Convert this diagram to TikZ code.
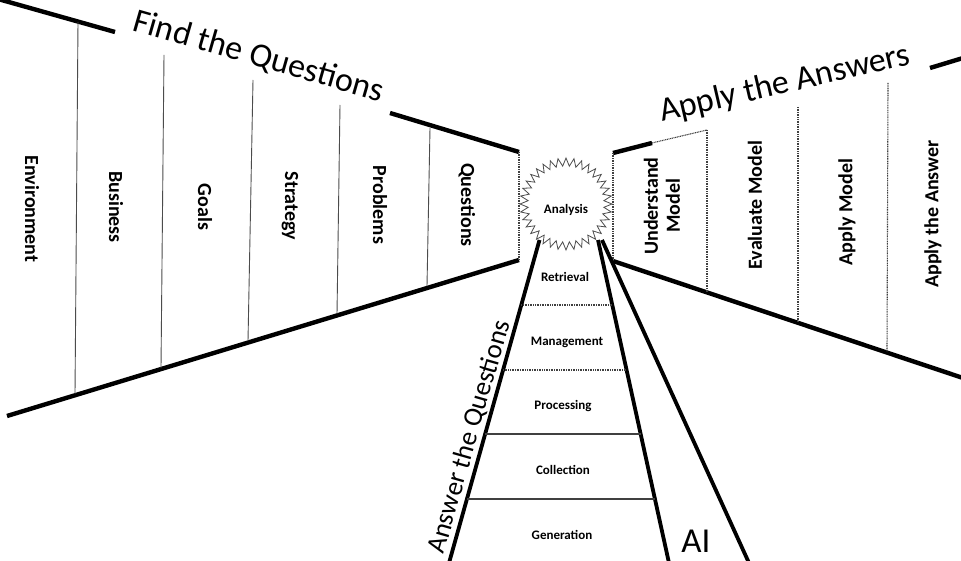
\documentclass[tikz,border=0pt]{standalone}
\usepackage{fontspec}
\setmainfont{Carlito}
\usetikzlibrary{calc}
\begin{document}
\begin{tikzpicture}[x=1pt,y=-1pt,
  heavy/.style={line width=4.4pt},
  ladderline/.style={line width=3.8pt},
  divider/.style={line width=0.9pt, draw=black!70},
  dotdiv/.style={line width=1.1pt, draw=black!75, dash pattern=on 1pt off 0.7pt},
  rungline/.style={line width=1.2pt, draw=black!75, dash pattern=on 1pt off 0.7pt},
  rungsolid/.style={line width=1.1pt, draw=black!75},
  burst/.style={line width=0.8pt, draw=black!70},
  panel/.style={inner sep=0pt, font=\fontsize{20}{22}\selectfont\bfseries, align=center},
  rung/.style={inner sep=0pt, font=\fontsize{13}{15}\selectfont\bfseries},
  title/.style={inner sep=0pt, font=\fontsize{34}{38}\selectfont},
]
\useasboundingbox (0,0) rectangle (961,561);
\fill[white] (0,0) rectangle (961,561);

% ---------- left panel (Find the Questions) ----------
\coordinate (lt0) at (-2,-1);
\coordinate (lt1) at (115,32);
\coordinate (lt2) at (390,113);
\coordinate (lt3) at (519,152);
\coordinate (lb0) at (7,416);
\coordinate (lb1) at (519,260);
\draw[heavy] (lt0) -- (lt1);
\draw[heavy] (lt2) -- (lt3);
\draw[heavy] (lb0) -- (lb1);
\draw[dotdiv] (lt3) -- (lb1);

\coordinate (d1t) at (78,22);  \coordinate (d1b) at (75,394);
\coordinate (d2t) at (164,55); \coordinate (d2b) at (161,368);
\coordinate (d3t) at (253,80); \coordinate (d3b) at (248,341);
\coordinate (d4t) at (340,105);\coordinate (d4b) at (337,314);
\coordinate (d5t) at (430,128);\coordinate (d5b) at (427,286);
\foreach \i in {1,...,5} \draw[divider] (d\i t) -- (d\i b);

\node[title, rotate=-16, anchor=base] (findq) at (256,66) {Find the Questions};

\node[panel, rotate=-90] (env) at (32,209) {Environment};
\node[panel, rotate=-90] (bus) at (116,207) {Business};
\node[panel, rotate=-90] (goa) at (205,207) {Goals};
\node[panel, rotate=-90] (str) at (290,206) {Strategy};
\node[panel, rotate=-90] (pro) at (380,205) {Problems};
\node[panel, rotate=-90] (que) at (467,205) {Questions};

% ---------- right panel (Apply the Answers) ----------
\coordinate (rt0) at (613,153);
\coordinate (rt1) at (652,143);
\coordinate (rt2) at (707,130);
\coordinate (rt3) at (930,68);
\coordinate (rt4) at (963,58);
\coordinate (rb0) at (613,261);
\coordinate (rb1) at (963,378);
\draw[heavy] (rt0) -- (rt1);
\draw[dotdiv] (rt1) -- (rt2);
\draw[heavy] (rt3) -- (rt4);
\draw[heavy] (rb0) -- (rb1);
\draw[dotdiv] (rt0) -- (rb0);

\coordinate (e1t) at (707,130); \coordinate (e1b) at (707,292);
\coordinate (e2t) at (798,107); \coordinate (e2b) at (798,322);
\coordinate (e3t) at (888,83);  \coordinate (e3b) at (887,352);
\foreach \i in {1,2,3} \draw[dotdiv] (e\i t) -- (e\i b);

\node[title, rotate=13, anchor=base] (applya) at (787,93) {Apply the Answers};

\node[panel, rotate=90] (und) at (662,206) {Understand\\Model};
\node[panel, rotate=90] (eva) at (755,205) {Evaluate Model};
\node[panel, rotate=90] (apm) at (847,212) {Apply Model};
\node[panel, rotate=90] (apa) at (933,214) {Apply the Answer};

% ---------- analysis starburst ----------
\draw[burst] plot[domain=0:71, samples=72, variable=\k]
  ({566+ifthenelse(mod(round(\k),2)==0,46,38)*cos(\k*5)},
   {204+ifthenelse(mod(round(\k),2)==0,46,38)*sin(\k*5)}) -- cycle;
\node[rung] (ana) at (566,210) {Analysis};

% ---------- ladder (Answer the Questions) ----------
\coordinate (lat) at (539.5,240);
\coordinate (lab) at (449,563);
\coordinate (lrt) at (598,240);
\coordinate (lrb) at (669,563);
\coordinate (ait) at (602,240);
\coordinate (aib) at (749,563);
\draw[ladderline] (lat) -- (lab);
\draw[ladderline] (lrt) -- (lrb);
\draw[ladderline] (ait) -- (aib);

\foreach \y/\n in {305/1,370/2,434/3,499/4}{
  \coordinate (rl\n) at ($(lat)!{(\y-240)/323}!(lab)$);
  \coordinate (rr\n) at ($(lrt)!{(\y-240)/323}!(lrb)$);
}
\draw[rungline] (rl1) -- (rr1);
\draw[rungline] (rl2) -- (rr2);
\draw[rungsolid] (rl3) -- (rr3);
\draw[rungsolid] (rl4) -- (rr4);

\node[rung] (ret) at (565,277) {Retrieval};
\node[rung] (man) at (567,342) {Management};
\node[rung] (prc) at (563,406) {Processing};
\node[rung] (col) at (563,470) {Collection};
\node[rung] (gen) at (562,535) {Generation};

\node[inner sep=0pt, font=\fontsize{27}{30}\selectfont, rotate=74, anchor=base] (ansq) at (477,439) {Answer the Questions};

\node[inner sep=0pt, font=\fontsize{35}{38}\selectfont] (ai) at (696,541) {AI};
\end{tikzpicture}
\end{document}
